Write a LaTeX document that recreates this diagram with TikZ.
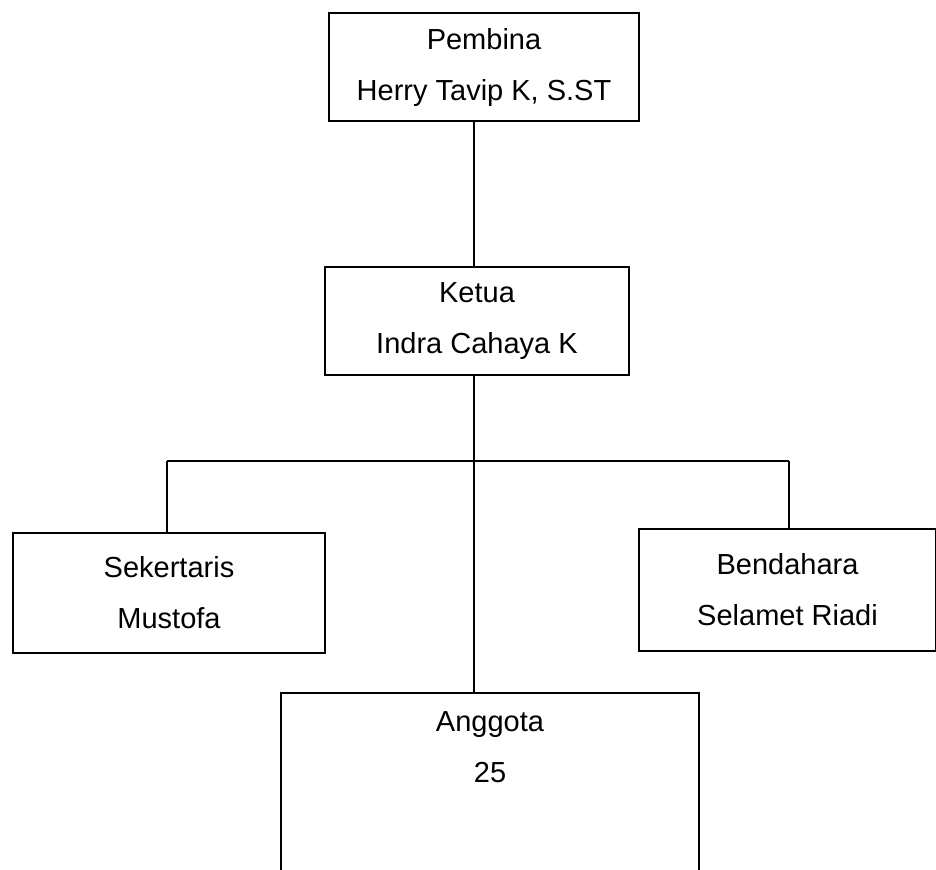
\documentclass[tikz,border=0pt]{standalone}
\usepackage{fontspec}
\setmainfont{Liberation Sans}
\tikzset{
  jabatan/.style={draw, rectangle, align=center, line width=0.6pt,
    font=\fontsize{14.5}{25.5}\selectfont},
  garis/.style={line width=0.6pt},
  palang/.style={line width=1pt}
}
\begin{document}
\begin{tikzpicture}[x=0.5pt,y=-0.5pt]
      \useasboundingbox (0,0) rectangle (936,869);
      \node[jabatan, minimum width=155pt, minimum height=54pt] (pembina) at (484,67) {Pembina\\Herry Tavip K, S.ST};
      \node[jabatan, minimum width=152pt, minimum height=54pt] (ketua) at (477,321) {Ketua\\Indra Cahaya K};
      \node[jabatan, minimum width=156pt, minimum height=60pt] (sekertaris) at (169,593) {Sekertaris\\Mustofa};
      \node[jabatan, minimum width=148.5pt, minimum height=61pt] (bendahara) at (787.5,590) {Bendahara\\Selamet Riadi};
      \node[jabatan, minimum width=209pt, minimum height=123.5pt] (anggota) at (490,816.5) {};
      \node[align=center, font=\fontsize{14.5}{25.5}\selectfont] (anggotateks) at (490,747.5) {Anggota\\25};
      \coordinate (tengah) at (474,461);
      \coordinate (kiri) at (167,461);
      \coordinate (kanan) at (789,461);
      \draw[garis] (pembina.south -| tengah) -- (ketua.north -| tengah);
      \draw[garis] (ketua.south -| tengah) -- (anggota.north -| tengah);
      \draw[palang] (kiri) -- (kanan);
      \draw[garis] (kiri) -- (sekertaris.north -| kiri);
      \draw[garis] (kanan) -- (bendahara.north -| kanan);
\end{tikzpicture}
\end{document}
